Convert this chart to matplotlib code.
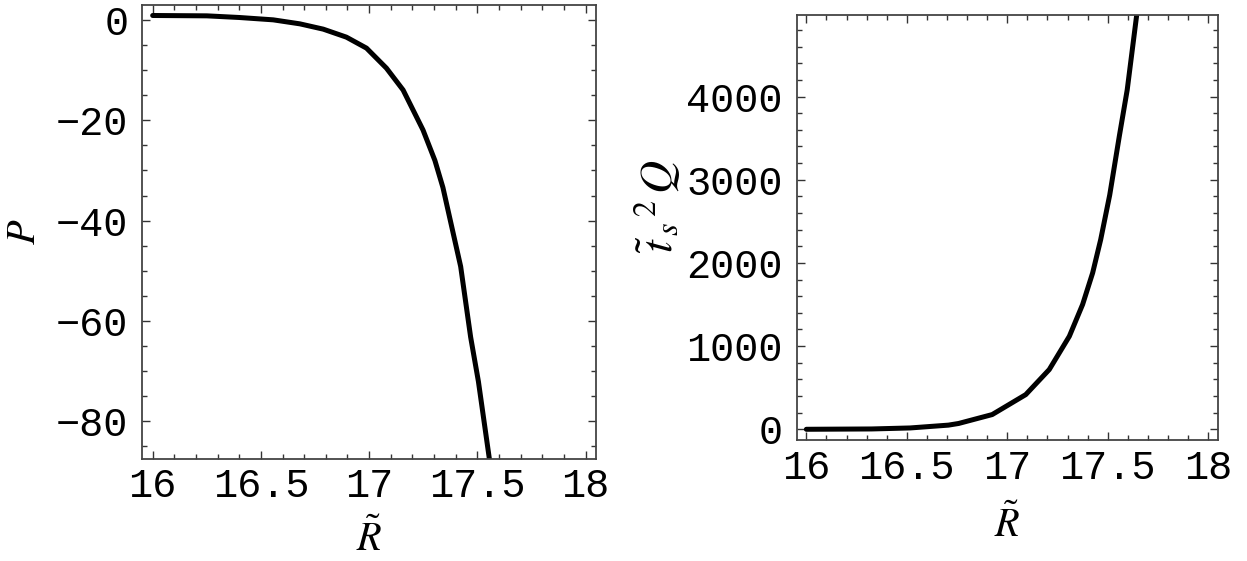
import numpy as np
import matplotlib
matplotlib.use('Agg')
import matplotlib.pyplot as plt
from matplotlib.ticker import MultipleLocator, FuncFormatter

# values
r_left = [16.0, 16.25, 16.40, 16.557, 16.68, 16.788, 16.895, 16.988, 17.08,
          17.157, 17.218, 17.249, 17.304, 17.341, 17.423, 17.469, 17.505, 17.557]
p_left = [1.0, 0.93, 0.6, 0.13, -0.67, -1.73, -3.33, -5.53, -9.53,
          -13.9, -19.2, -21.9, -28.0, -33.4, -49.2, -63.3, -72.2, -88.1]

r_right = [16.0, 16.325, 16.516, 16.707, 16.758, 16.925, 17.092, 17.209, 17.309,
           17.375, 17.425, 17.465, 17.51, 17.558, 17.597, 17.644]
q_right = [0, 4, 16, 50, 70, 177, 417, 718, 1118,
           1500, 1880, 2280, 2817, 3527, 4080, 4976]

x_ticks = [16, 16.5, 17, 17.5, 18]

plt.rcParams['mathtext.fontset'] = 'stix'
tick_font = 'Liberation Mono'

fig = plt.figure(figsize=(12.47, 5.61), dpi=100)
ax1 = fig.add_axes([0.1141, 0.1818, 0.3638, 0.8093])
ax2 = fig.add_axes([0.6389, 0.2152, 0.3377, 0.7581])


def fmt(v, pos):
    s = ('%g' % v)
    return s.replace('-', '\u2212')


for ax in (ax1, ax2):
    ax.set_xlim(15.952, 18.048)
    ax.set_xticks(x_ticks)
    ax.xaxis.set_minor_locator(MultipleLocator(0.1))
    ax.xaxis.set_major_formatter(FuncFormatter(fmt))
    ax.yaxis.set_major_formatter(FuncFormatter(fmt))
    ax.tick_params(which='both', direction='in', top=True, right=True, colors='#333333',
                   labelcolor='black', width=1)
    ax.tick_params(which='major', length=6)
    ax.tick_params(which='minor', length=3.5)
    ax.tick_params(axis='x', pad=6)
    ax.tick_params(axis='y', pad=10)
    for lab in ax.get_xticklabels() + ax.get_yticklabels():
        lab.set_fontfamily(tick_font)
        lab.set_fontsize(29)
    for sp in ax.spines.values():
        sp.set_color('#444444')
        sp.set_linewidth(1.3)

ax1.plot(r_left, p_left, color='black', lw=3.6, solid_capstyle='round')
ax1.set_ylim(-87.7, 3.1)
ax1.set_yticks([0, -20, -40, -60, -80])
ax1.yaxis.set_minor_locator(MultipleLocator(5))
ax1.set_ylabel('$P$', fontsize=29)
ax1.yaxis.set_label_coords(-0.261, 0.5)
ax1.yaxis.label.set_va('center')
ax1.set_xlabel(r'$\tilde{R}$', fontsize=29)
ax1.xaxis.set_label_coords(0.5, -0.177)
ax1.xaxis.label.set_va('center')

ax2.plot(r_right, q_right, color='black', lw=3.6, solid_capstyle='round')
ax2.set_ylim(-132, 4980)
ax2.set_yticks([0, 1000, 2000, 3000, 4000])
ax2.yaxis.set_minor_locator(MultipleLocator(200))
ax2.set_ylabel(r'$\tilde{t}_{\,s}{}^{\,2}\,Q$', fontsize=33)
ax2.yaxis.set_label_coords(-0.33, 0.55)
ax2.yaxis.label.set_va('center')
ax2.set_xlabel(r'$\tilde{R}$', fontsize=29)
ax2.xaxis.set_label_coords(0.5, -0.2)
ax2.xaxis.label.set_va('center')

fig.savefig('out.png', dpi=100)
